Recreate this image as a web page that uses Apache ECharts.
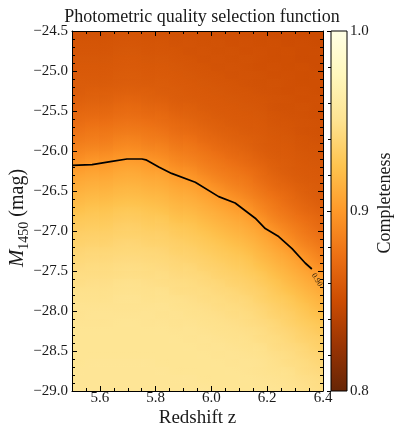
<!DOCTYPE html>
<html><head><meta charset="utf-8">
<script src="https://cdn.jsdelivr.net/npm/echarts@6/dist/echarts.min.js"></script>
<style>html,body{margin:0;padding:0;background:#fff}#c{width:399px;height:435px}</style>
</head><body><div id="c"></div>
<script>
// ---------------- data ----------------
const zCenters = [5.525,5.575,5.625,5.675,5.725,5.775,5.825,5.875,5.925,5.975,6.025,6.075,6.125,6.175,6.225,6.275,6.325,6.375];
const mCenters = [-24.55,-24.65,-24.75,-24.85,-24.95,-25.05,-25.15,-25.25,-25.35,-25.45,
  -25.55,-25.65,-25.75,-25.85,-25.95,-26.05,-26.15,-26.25,-26.35,-26.45,
  -26.55,-26.65,-26.75,-26.85,-26.95,-27.05,-27.15,-27.25,-27.35,-27.45,
  -27.55,-27.65,-27.75,-27.85,-27.95,-28.05,-28.15,-28.25,-28.35,-28.45,
  -28.55,-28.65,-28.75,-28.85,-28.95];
// completeness per redshift column (top M=-24.55 ... bottom M=-28.95)
const completenessByZ = [
 [.855,.856,.857,.858,.859,.860,.861,.862,.864,.867,.870,.873,.877,.881,.886,.891,.897,.903,.908,.912,.916,.920,.924,.928,.931,.934,.936,.939,.941,.943,.945,.946,.948,.949,.950,.950,.951,.952,.952,.952,.952,.952,.953,.953,.953],
 [.855,.856,.857,.858,.859,.860,.861,.863,.865,.868,.871,.875,.879,.883,.888,.894,.900,.905,.910,.914,.918,.922,.926,.929,.932,.935,.937,.940,.942,.944,.945,.947,.948,.949,.950,.951,.951,.952,.952,.952,.952,.953,.953,.953,.953],
 [.855,.856,.857,.858,.859,.860,.861,.863,.865,.868,.871,.875,.879,.883,.888,.894,.900,.905,.910,.914,.918,.922,.926,.929,.932,.935,.937,.940,.942,.944,.945,.947,.948,.949,.950,.951,.951,.952,.952,.952,.952,.953,.953,.953,.953],
 [.856,.857,.858,.859,.860,.861,.862,.864,.867,.870,.873,.877,.881,.886,.891,.897,.903,.908,.912,.916,.920,.924,.928,.931,.934,.936,.939,.941,.943,.945,.946,.948,.949,.950,.950,.951,.952,.952,.952,.952,.952,.953,.953,.953,.953],
 [.856,.857,.858,.859,.860,.861,.862,.864,.867,.870,.873,.877,.881,.886,.891,.897,.903,.908,.912,.916,.920,.924,.928,.931,.934,.936,.939,.941,.943,.945,.946,.948,.949,.950,.950,.951,.952,.952,.952,.952,.952,.953,.953,.953,.953],
 [.855,.856,.857,.858,.859,.860,.861,.863,.865,.868,.871,.875,.879,.883,.888,.894,.900,.905,.910,.914,.918,.922,.926,.929,.932,.935,.937,.940,.942,.944,.945,.947,.948,.949,.950,.951,.951,.952,.952,.952,.952,.953,.953,.953,.953],
 [.855,.856,.857,.858,.859,.860,.861,.862,.864,.867,.870,.873,.877,.881,.886,.891,.897,.903,.908,.912,.916,.920,.924,.928,.931,.934,.936,.939,.941,.943,.945,.946,.948,.949,.950,.950,.951,.952,.952,.952,.952,.952,.953,.953,.953],
 [.854,.855,.856,.857,.858,.859,.860,.861,.862,.864,.867,.870,.873,.877,.881,.886,.891,.897,.903,.908,.912,.916,.920,.924,.928,.931,.934,.936,.939,.941,.943,.945,.946,.948,.949,.950,.950,.951,.952,.952,.952,.952,.952,.953,.953],
 [.854,.855,.855,.856,.857,.858,.859,.860,.861,.863,.865,.868,.871,.875,.879,.883,.888,.894,.900,.905,.910,.914,.918,.922,.926,.929,.932,.935,.937,.940,.942,.944,.945,.947,.948,.949,.950,.951,.951,.952,.952,.952,.952,.953,.953],
 [.854,.854,.855,.855,.856,.857,.858,.859,.860,.861,.863,.865,.868,.871,.875,.879,.883,.888,.894,.900,.905,.910,.914,.918,.922,.926,.929,.932,.935,.937,.940,.942,.944,.945,.947,.948,.949,.950,.951,.951,.952,.952,.952,.952,.953],
 [.853,.854,.854,.855,.855,.856,.857,.858,.859,.860,.861,.863,.865,.868,.871,.875,.879,.883,.888,.894,.900,.905,.910,.914,.918,.922,.926,.929,.932,.935,.937,.940,.942,.944,.945,.947,.948,.949,.950,.951,.951,.952,.952,.952,.952],
 [.853,.853,.854,.854,.855,.855,.856,.857,.858,.859,.860,.861,.863,.865,.868,.871,.875,.879,.883,.888,.894,.900,.905,.910,.914,.918,.922,.926,.929,.932,.935,.937,.940,.942,.944,.945,.947,.948,.949,.950,.951,.951,.952,.952,.952],
 [.852,.853,.853,.854,.854,.855,.855,.856,.857,.858,.859,.860,.861,.863,.865,.868,.871,.875,.879,.883,.888,.894,.900,.905,.910,.914,.918,.922,.926,.929,.932,.935,.937,.940,.942,.944,.945,.947,.948,.949,.950,.951,.951,.952,.952],
 [.852,.852,.853,.853,.853,.854,.854,.855,.856,.857,.858,.859,.860,.861,.862,.864,.867,.870,.873,.877,.881,.886,.891,.897,.903,.908,.912,.916,.920,.924,.928,.931,.934,.936,.939,.941,.943,.945,.946,.948,.949,.950,.950,.951,.952],
 [.851,.852,.852,.852,.853,.853,.854,.854,.855,.855,.856,.857,.858,.859,.860,.861,.863,.865,.868,.871,.875,.879,.883,.888,.894,.900,.905,.910,.914,.918,.922,.926,.929,.932,.935,.937,.940,.942,.944,.945,.947,.948,.949,.950,.951],
 [.851,.851,.852,.852,.852,.853,.853,.853,.854,.854,.855,.856,.857,.858,.859,.860,.861,.862,.864,.867,.870,.873,.877,.881,.886,.891,.897,.903,.908,.912,.916,.920,.924,.928,.931,.934,.936,.939,.941,.943,.945,.946,.948,.949,.950],
 [.850,.851,.851,.851,.852,.852,.852,.853,.853,.854,.854,.855,.855,.856,.857,.858,.859,.860,.861,.863,.865,.868,.871,.875,.879,.883,.888,.894,.900,.905,.910,.914,.918,.922,.926,.929,.932,.935,.937,.940,.942,.944,.945,.947,.948],
 [.850,.850,.851,.851,.851,.852,.852,.852,.853,.853,.853,.854,.854,.855,.856,.857,.858,.859,.860,.861,.862,.864,.867,.870,.873,.877,.881,.886,.891,.897,.903,.908,.912,.916,.920,.924,.928,.931,.934,.936,.939,.941,.943,.945,.946]
];
// 0.90 contour
const contourZ = [5.500,5.572,5.643,5.697,5.751,5.765,5.811,5.857,5.942,6.026,6.085,6.157,6.193,6.241,6.289,6.336,6.360];
const contourM = [-26.18,-26.17,-26.13,-26.10,-26.10,-26.11,-26.20,-26.28,-26.39,-26.57,-26.65,-26.84,-26.97,-27.07,-27.22,-27.40,-27.475];
const contourLabel = {text: '0.90', z: 6.378, m: -27.61};
const xTickLabels = [5.6, 5.8, 6.0, 6.2, 6.4];
const cbTickLabels = [0.8, 0.9, 1.0];
const titleText = 'Photometric quality selection function';

// ---------------- chart ----------------
const FONT = 'Liberation Serif';
const TXT = '#1a1a1a';
const cmap = ['#662506','#993404','#cc4c02','#ec7014','#fe9929','#fec44f','#fee391','#fff7bc','#ffffe5'];
const vMin = 0.8, vMax = 1.0;
const dz = zCenters[1] - zCenters[0];
const dm = Math.abs(mCenters[1] - mCenters[0]);
const nz = zCenters.length, nm = mCenters.length;

const cells = [];
completenessByZ.forEach((col, i) => col.forEach((v, j) => cells.push([zCenters[i], mCenters[j], v, i, j])));

const colorOf = v => echarts.color.lerp(Math.max(0, Math.min(1, (v - vMin) / (vMax - vMin))), cmap);
const cl = (a, lo, hi) => Math.max(lo, Math.min(hi, a));
const valAt = (i, j) => completenessByZ[cl(i, 0, nz - 1)][cl(j, 0, nm - 1)];

const minus = v => (v < 0 ? '\u2212' : '') + Math.abs(v).toFixed(1);
const tickStyle = {color: '#000', width: 1};
const lbl = {fontFamily: FONT, fontSize: 15, color: TXT};

const chart = echarts.init(document.getElementById('c'), null, {renderer: 'canvas'});
chart.setOption({
  animation: false,
  backgroundColor: '#fff',
  title: {text: titleText, left: 197, top: 3, textAlign: 'center',
    textStyle: {fontFamily: FONT, fontSize: 18, fontWeight: 'normal', color: TXT}},
  grid: [
    {left: 72, top: 31, width: 251, height: 360, containLabel: false, outerBoundsMode: 'none'},
    {left: 331, top: 31, width: 16, height: 360, containLabel: false, outerBoundsMode: 'none'}
  ],
  xAxis: [
    {gridIndex: 0, type: 'value', min: 5.5, max: 6.4, position: 'bottom', z: 10,
      axisLine: {show: true, onZero: false, lineStyle: tickStyle},
      axisTick: {show: true, inside: true, length: 5, customValues: xTickLabels, lineStyle: tickStyle},
      axisLabel: Object.assign({customValues: xTickLabels, formatter: v => v.toFixed(1), margin: 0}, lbl),
      splitLine: {show: false},
      name: 'Redshift z', nameLocation: 'middle', nameGap: 18, nameMoveOverlap: false,
      nameTextStyle: {fontFamily: FONT, fontSize: 19, color: TXT}},
    {gridIndex: 0, type: 'value', min: 5.5, max: 6.4, interval: 0.05, position: 'bottom', z: 10,
      axisLine: {show: false, onZero: false}, axisTick: {show: true, inside: true, length: 3, lineStyle: tickStyle},
      axisLabel: {show: false}, splitLine: {show: false}},
    {gridIndex: 0, type: 'value', min: 5.5, max: 6.4, position: 'top', z: 10,
      axisLine: {show: true, onZero: false, lineStyle: tickStyle},
      axisTick: {show: true, inside: true, length: 5, customValues: xTickLabels, lineStyle: tickStyle},
      axisLabel: {show: false}, splitLine: {show: false}},
    {gridIndex: 0, type: 'value', min: 5.5, max: 6.4, interval: 0.05, position: 'top', z: 10,
      axisLine: {show: false, onZero: false}, axisTick: {show: true, inside: true, length: 3, lineStyle: tickStyle},
      axisLabel: {show: false}, splitLine: {show: false}},
    {gridIndex: 1, type: 'value', min: 0, max: 1, show: false}
  ],
  yAxis: [
    {gridIndex: 0, type: 'value', min: -29, max: -24.5, interval: 0.5, position: 'left', z: 10,
      axisLine: {show: true, onZero: false, lineStyle: tickStyle},
      axisTick: {show: true, inside: true, length: 5, lineStyle: tickStyle},
      minorTick: {show: true, splitNumber: 5, length: 3, lineStyle: tickStyle},
      axisLabel: Object.assign({formatter: minus, margin: 4}, lbl),
      splitLine: {show: false},
      name: '{i|M}{s|1450}{n| (mag)}', nameLocation: 'middle', nameGap: 44, nameRotate: 90, nameMoveOverlap: false,
      nameTextStyle: {color: TXT, padding: [0, 14, 0, 0], rich: {
        i: {fontFamily: FONT, fontStyle: 'italic', fontSize: 21, color: TXT, lineHeight: 24, verticalAlign: 'bottom'},
        s: {fontFamily: FONT, fontSize: 14, color: TXT, lineHeight: 18, verticalAlign: 'bottom', padding: [0, 0, -3, 0]},
        n: {fontFamily: FONT, fontSize: 20, color: TXT, lineHeight: 24, verticalAlign: 'bottom'}}}},
    {gridIndex: 0, type: 'value', min: -29, max: -24.5, interval: 0.5, position: 'right', z: 10,
      axisLine: {show: true, onZero: false, lineStyle: tickStyle},
      axisTick: {show: true, inside: true, length: 5, lineStyle: tickStyle},
      minorTick: {show: true, splitNumber: 5, length: 3, lineStyle: tickStyle},
      axisLabel: {show: false}, splitLine: {show: false}},
    {gridIndex: 1, type: 'value', min: 0.8, max: 1.0, interval: 0.1, position: 'right', z: 10,
      axisLine: {show: false},
      axisTick: {show: true, inside: true, length: 4, lineStyle: tickStyle},
      minorTick: {show: true, splitNumber: 5, length: 3, lineStyle: tickStyle},
      axisLabel: Object.assign({formatter: v => v.toFixed(1), margin: 3, customValues: cbTickLabels}, lbl),
      splitLine: {show: false},
      name: 'Completeness', nameLocation: 'middle', nameGap: 29, nameRotate: 90, nameMoveOverlap: false,
      nameTextStyle: {fontFamily: FONT, fontSize: 18, color: TXT, padding: [0, 0, 0, 16]}}
  ],
  series: [
    {type: 'custom', xAxisIndex: 0, yAxisIndex: 0, data: cells, clip: true, z: 2,
      encode: {x: 0, y: 1},
      renderItem: (params, api) => {
        const z = api.value(0), m = api.value(1), v = api.value(2);
        const i = api.value(3), j = api.value(4);
        const p0 = api.coord([z - dz / 2, m + dm / 2]);
        const p1 = api.coord([z + dz / 2, m - dm / 2]);
        const cw = p1[0] - p0[0], ch = p1[1] - p0[1];
        const cx = (p0[0] + p1[0]) / 2, cy = (p0[1] + p1[1]) / 2;
        const il = cl(i - 1, 0, nz - 1), ir = cl(i + 1, 0, nz - 1);
        const ju = cl(j - 1, 0, nm - 1), jd = cl(j + 1, 0, nm - 1);
        const gx = (valAt(ir, j) - valAt(il, j)) / ((ir - il) * cw);
        const gy = (valAt(i, jd) - valAt(i, ju)) / ((jd - ju) * ch);
        const g = Math.hypot(gx, gy);
        const x = Math.floor(p0[0]), y = Math.floor(p0[1]);
        const shape = {x: x, y: y, width: Math.ceil(p1[0]) - x, height: Math.ceil(p1[1]) - y};
        let fill = colorOf(v);
        if (g > 1e-7) {
          const L = 12, ux = gx / g, uy = gy / g;
          fill = new echarts.graphic.LinearGradient(cx - ux * L, cy - uy * L, cx + ux * L, cy + uy * L, [
            {offset: 0, color: colorOf(v - g * L)},
            {offset: 0.5, color: colorOf(v)},
            {offset: 1, color: colorOf(v + g * L)}], true);
        }
        return {type: 'rect', shape: shape, style: {fill: fill}};
      }},
    {type: 'line', xAxisIndex: 0, yAxisIndex: 0, z: 5, symbol: 'none', silent: true,
      data: contourZ.map((z, i) => [z, contourM[i]]),
      lineStyle: {color: '#000', width: 1.7}},
    {type: 'scatter', xAxisIndex: 0, yAxisIndex: 0, z: 6, symbolSize: 0, silent: true,
      data: [[contourLabel.z, contourLabel.m]],
      label: {show: true, position: 'inside', formatter: contourLabel.text, rotate: -58,
        fontFamily: FONT, fontSize: 8, color: '#000'}},
    {type: 'custom', xAxisIndex: 4, yAxisIndex: 2, data: [[0, 0.8, 1.0]], z: 2,
      renderItem: (params, api) => {
        const pTop = api.coord([0, api.value(2)]);
        const pBot = api.coord([1, api.value(1)]);
        const stops = cmap.slice().reverse().map((c, k, a) => ({offset: k / (a.length - 1), color: c}));
        return {type: 'rect', shape: {x: pTop[0], y: pTop[1], width: pBot[0] - pTop[0], height: pBot[1] - pTop[1]},
          style: {fill: new echarts.graphic.LinearGradient(0, 0, 0, 1, stops), stroke: '#000', lineWidth: 1}};
      }}
  ]
});
</script></body></html>
